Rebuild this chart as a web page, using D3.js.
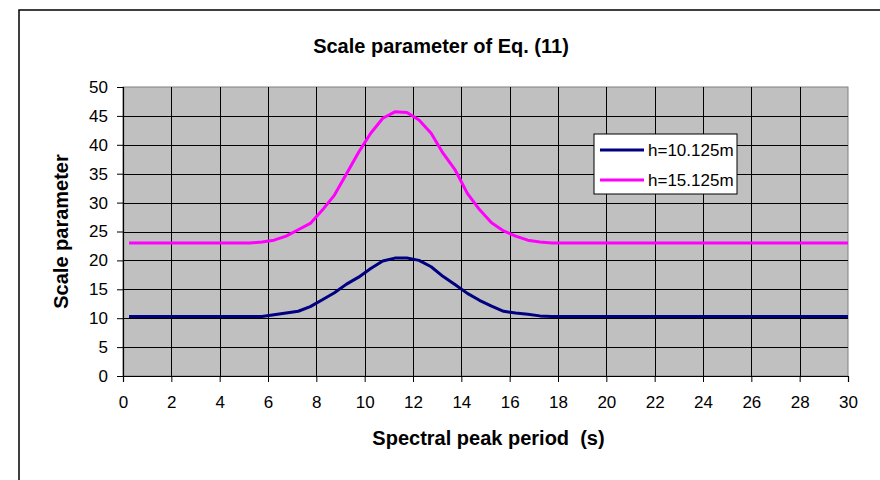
<!DOCTYPE html>
<html><head><meta charset="utf-8">
<script src="https://cdn.jsdelivr.net/npm/d3@7"></script>
<style>html,body{margin:0;padding:0;background:#fff}svg{display:block}text{font-family:"Liberation Sans",Arial,sans-serif;white-space:pre}</style>
</head><body><svg id="c" width="880" height="480"></svg>
<script>
const periods = [0.25, 5.25, 5.75, 6.25, 6.75, 7.25, 7.75, 8.25, 8.75, 9.25, 9.75, 10.25, 10.75, 11.25, 11.75, 12.25, 12.75, 13.25, 13.75, 14.25, 14.75, 15.25, 15.75, 16.25, 16.75, 17.25, 17.75, 18.25, 30];
const h10 = [10.3, 10.3, 10.3, 10.6, 10.9, 11.2, 12.0, 13.2, 14.4, 15.9, 17.1, 18.6, 19.9, 20.4, 20.4, 20.0, 18.9, 17.2, 15.8, 14.3, 13.1, 12.1, 11.2, 10.9, 10.7, 10.4, 10.3, 10.3, 10.3];
const h15 = [23.0, 23.0, 23.2, 23.5, 24.2, 25.3, 26.4, 28.7, 31.3, 35.0, 38.7, 42.0, 44.6, 45.7, 45.6, 44.3, 42.0, 38.5, 35.6, 31.6, 28.8, 26.5, 25.1, 24.2, 23.5, 23.2, 23.0, 23.0, 23.0];
const seriesNames = ["h=10.125m", "h=15.125m"];
const seriesColors = ["#000080", "#ff00ff"];
const xTicks = d3.range(0, 31, 2);
const yTicks = d3.range(0, 51, 5);
const titleText = "Scale parameter of Eq. (11)";
const xTitle = "Spectral peak period  (s)";
const yTitle = "Scale parameter";

const svg = d3.select("#c");
const L = 123, R = 848, T = 87, B = 376;
const x = d3.scaleLinear().domain([0, 30]).range([L, R]);
const y = d3.scaleLinear().domain([0, 50]).range([B, T]);

// outer frame
svg.append("rect").attr("x", 19).attr("y", 10).attr("width", 900).attr("height", 500)
  .attr("fill", "none").attr("stroke", "#000").attr("stroke-width", 1.5);

// plot background
svg.append("rect").attr("x", L).attr("y", T).attr("width", R - L).attr("height", B - T)
  .attr("fill", "#c0c0c0").attr("stroke", "#808080").attr("stroke-width", 1);

// grid
const g = svg.append("g");
g.selectAll("line.v").data(xTicks.filter(d => d > 0 && d < 30)).join("line")
  .attr("x1", d => Math.round(x(d)) + 0.5).attr("x2", d => Math.round(x(d)) + 0.5)
  .attr("y1", T).attr("y2", B).attr("stroke", "#000").attr("stroke-width", 1);
g.selectAll("line.h").data(yTicks.filter(d => d > 0 && d < 50)).join("line")
  .attr("y1", d => Math.round(y(d)) + 0.5).attr("y2", d => Math.round(y(d)) + 0.5)
  .attr("x1", L).attr("x2", R).attr("stroke", "#000").attr("stroke-width", 1);

// axes
const xAxis = svg.append("g").attr("transform", `translate(0,${B})`)
  .call(d3.axisBottom(x).tickValues(xTicks).tickSize(6).tickPadding(14));
const yAxis = svg.append("g").attr("transform", `translate(${L},0)`)
  .call(d3.axisLeft(y).tickValues(yTicks).tickSize(6).tickPadding(9));
[xAxis, yAxis].forEach(a => {
  a.select(".domain").attr("stroke", "#000").attr("stroke-width", 1.2);
  a.selectAll(".tick line").attr("stroke", "#000");
  a.selectAll("text").attr("font-size", 17).attr("fill", "#000")
    .attr("font-family", '"Liberation Sans",Arial,sans-serif');
});

// lines
const line = d3.line().x((d, i) => x(periods[i])).y(d => y(d));
[h10, h15].forEach((s, k) => {
  svg.append("path").datum(s).attr("d", line).attr("fill", "none")
    .attr("stroke", seriesColors[k]).attr("stroke-width", 3).attr("stroke-linejoin", "round");
});

// titles
svg.append("text").attr("x", 441).attr("y", 53).attr("text-anchor", "middle")
  .attr("font-size", 20).attr("font-weight", "bold").text(titleText);
svg.append("text").attr("x", (L + R) / 2 + 3).attr("y", 445).attr("text-anchor", "middle")
  .attr("font-size", 20).attr("font-weight", "bold").text(xTitle);
svg.append("text").attr("transform", `translate(68,${(T + B) / 2}) rotate(-90)`).attr("text-anchor", "middle")
  .attr("font-size", 20).attr("font-weight", "bold").text(yTitle);

// legend
const lg = svg.append("g");
lg.append("rect").attr("x", 594).attr("y", 134).attr("width", 143).attr("height", 60)
  .attr("fill", "#fff").attr("stroke", "#000").attr("stroke-width", 1);
seriesNames.forEach((n, k) => {
  const yy = 150 + k * 30;
  lg.append("line").attr("x1", 600).attr("x2", 644).attr("y1", yy).attr("y2", yy)
    .attr("stroke", seriesColors[k]).attr("stroke-width", 3);
  lg.append("text").attr("x", 648).attr("y", yy + 6).attr("font-size", 17).text(n);
});
</script></body></html>
